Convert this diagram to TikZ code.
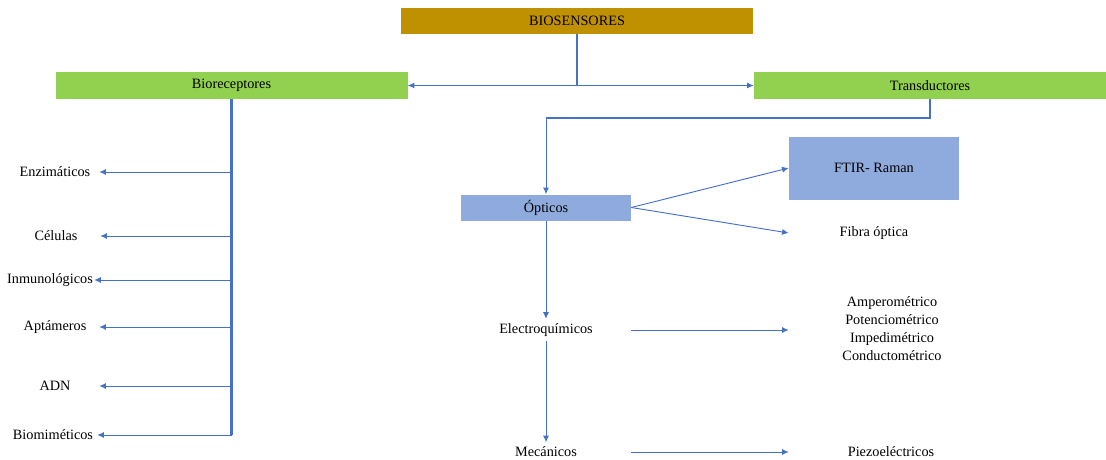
\documentclass[tikz,border=0pt]{standalone}
\usepackage{fontspec}
\setmainfont{Liberation Serif}
\usetikzlibrary{positioning,arrows.meta}
\definecolor{gold}{HTML}{BF9000}
\definecolor{leaf}{HTML}{92D050}
\definecolor{sky}{HTML}{8FAADC}
\definecolor{linkblue}{HTML}{4472C4}
\tikzset{
bigbox/.style={
  rectangle,
  inner sep=0pt,
  minimum width=264pt,
  minimum height=19.5pt,
  align=center
  },
smallbox/.style={
  rectangle,
  fill=sky,
  inner sep=0pt,
  minimum width=127.5pt,
  minimum height=19.5pt,
  align=center
  },
lbl/.style={
  inner sep=0pt,
  minimum width=66pt,
  align=center
  },
midlbl/.style={
  minimum width=127.5pt,
  align=center
  },
trunk/.style={draw=linkblue, line width=2.2pt},
branch/.style={draw=linkblue, line width=0.7pt,
  -{Latex[length=5pt,width=4.5pt]}}
}

\begin{document}
\begin{tikzpicture}[x=0.75pt,y=-0.75pt,
  every node/.style={font=\fontsize{10.7}{13.5}\selectfont}]

\useasboundingbox (0,0) rectangle (1106,460);

\node[bigbox,fill=gold] (bios) at (577,21) {BIOSENSORES};
\node[bigbox,fill=leaf] (biorec) at (231.5,85.5) {Bioreceptores};
\node[bigbox,fill=leaf] (transd) at (930,85.5) {Transductores};

\node[smallbox] (opt) at (546,207.5) {Ópticos};
\node[smallbox,minimum height=47.25pt] (ftir) at (874,168) {FTIR- Raman};
\node[midlbl,inner sep=0pt] (fibra) at (874,233) {Fibra óptica};
\node[midlbl] (electro) at (546,330) {Electroquímicos};
\node[midlbl] (mec) at (546,452) {Mecánicos};
\node[align=center] (amper) at (892,329)
{
  Amperométrico\\ Potenciométrico\\ Impedimétrico\\ Conductométrico
};
\node (piezo) at (891,452) {Piezoeléctricos};

\node[lbl] (enz) at (55,172) {Enzimáticos};
\node[lbl] (cel) at (56,236) {Células};
\node[lbl] (inm) at (50,280) {Inmunológicos};
\node[lbl] (apt) at (55,327) {Aptámeros};
\node[lbl] (adn) at (55,386) {ADN};
\node[lbl] (biomim) at (53,435) {Biomiméticos};

\coordinate (split) at (bios.south |- biorec.east);
\coordinate (bend) at (opt.north |- 0,118);

\begin{scope}
\draw[trunk]
  (bios.south) -- (split);
\draw[branch]
  (split) -- (biorec.east);
\draw[branch]
  (split) -- (transd.west);

\draw[trunk]
  (biorec.south) -- (biorec.south |- biomim);
\draw[branch]
  (biorec.south |- enz) -- (enz.east);
\draw[branch]
  (biorec.south |- cel) -- (cel.east);
\draw[branch]
  (biorec.south |- inm) -- (inm.east);
\draw[branch]
  (biorec.south |- apt) -- (apt.east);
\draw[branch]
  (biorec.south |- adn) -- (adn.east);
\draw[branch]
  (biorec.south |- biomim) -- (biomim.east);

\draw[trunk]
  (transd.south) |- (bend);
\draw[branch]
  (bend) -- (opt.north);
\draw[branch]
  (opt.south) -- (electro.north);
\draw[branch]
  (electro.south) -- (mec.north);

\draw[branch]
  (opt.east) -- (ftir.west);
\draw[branch]
  (opt.east) -- (fibra.west);
\draw[branch]
  (electro.east) -- (electro -| ftir.west);
\draw[branch]
  (mec.east) -- (mec -| ftir.west);
\end{scope}

\end{tikzpicture}
\end{document}
